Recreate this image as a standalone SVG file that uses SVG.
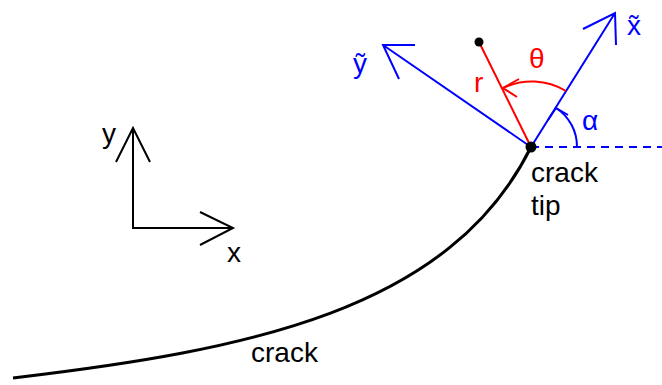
<svg xmlns="http://www.w3.org/2000/svg" width="662" height="385" viewBox="0 0 662 385">
<style>
text{font-family:"Liberation Sans","Open Sans",sans-serif;}
.blk{stroke:#000;fill:none;stroke-width:2}
.blu{stroke:#0000ff;fill:none;stroke-width:2}
.red{stroke:#ff0000;fill:none;stroke-width:2}
.lb{font-size:28px}
</style>
<rect width="662" height="385" fill="#fff"/>
<g id="crack">
<path d="M13,378 C250,350 450,310 531,147" stroke="#000" stroke-width="3" fill="none"/>
<text class="lb" x="251" y="362" fill="#000">crack</text>
</g>
<g id="axes">
<path class="blk" d="M133,128 V228 H233"/>
<path class="blk" d="M116,162 L133,128 L150,162"/>
<path class="blk" d="M200,212 L233,228 L200,245"/>
<text class="lb" x="102" y="143" fill="#000">y</text>
<text class="lb" x="227" y="262" fill="#000">x</text>
</g>
<g id="connectors">
<line class="blu" x1="531" y1="147" x2="662" y2="147" stroke-dasharray="8,6"/>
<path class="blu" d="M531,147 L615,13 M583,29 L615,13 L616,45"/>
<path class="blu" d="M531,147 L383,45 M415,45 L383,45 L399,79"/>
<path class="blu" d="M577,147 A46,46 0 0 0 556,108"/>
<path class="blu" d="M548,120 L556,108 L568,115"/>
<line class="red" x1="531" y1="147" x2="479" y2="42"/>
<path class="red" d="M566,91 A66,66 0 0 0 503,88"/>
<path class="red" d="M519,79 L503,88 L517,97"/>
</g>
<g id="tip">
<circle cx="531" cy="147" r="5.5" fill="#000"/>
<circle cx="479" cy="42" r="4.5" fill="#000"/>
<text class="lb" x="531" y="182" fill="#000">crack</text>
<text class="lb" x="531" y="215" fill="#000">tip</text>
</g>
<g id="labels">
<text class="lb" x="627" y="35" fill="#0000ff">x̃</text>
<text class="lb" x="353" y="73" fill="#0000ff">ỹ</text>
<text class="lb" x="529" y="68" fill="#ff0000">θ</text>
<text class="lb" x="474" y="92" fill="#ff0000">r</text>
<text class="lb" x="582" y="130" fill="#0000ff">α</text>
</g>
</svg>
